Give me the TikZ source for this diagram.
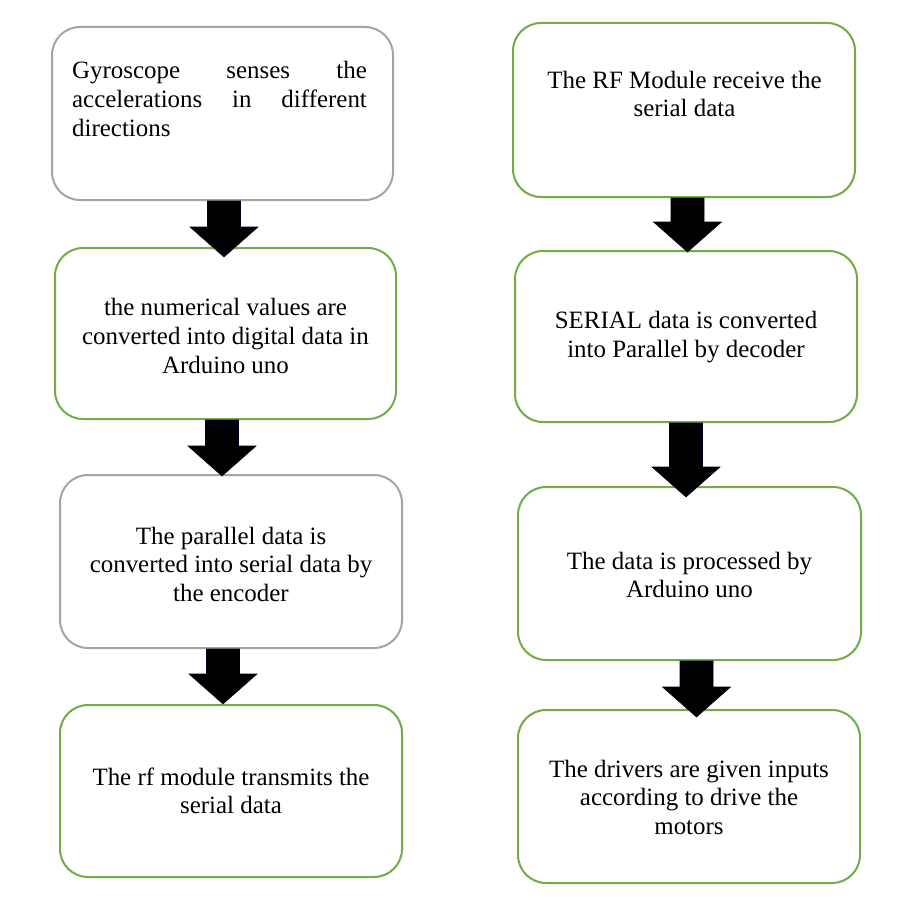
\documentclass[tikz,border=0pt]{standalone}
\usepackage{fontspec}
\setmainfont{Liberation Serif}
\usetikzlibrary{calc}
\definecolor{boxgreen}{HTML}{70AD47}
\definecolor{boxgray}{HTML}{A5A5A5}
\tikzset{
  stepbox/.style={draw, line width=1.5pt, rounded corners=21pt, fill=white, inner sep=0pt},
  greenbox/.style={stepbox, draw=boxgreen},
  graybox/.style={stepbox, draw=boxgray},
  boxtext/.style={align=center, inner sep=0pt, font=\fontsize{18.7pt}{21.4pt}\selectfont},
  blockarr/.style={fill=black, draw=black!85!blue, line width=0.4pt}
}
\newcommand\barrow[4]{% from, to, x centre (px), tip below target top (px)
  \fill[blockarr] let \p1=(#1.south), \p2=(#2.north) in
    ({(#3-16.5)*0.75pt},\y1) -- ({(#3+16.5)*0.75pt},\y1)
    -- ({(#3+16.5)*0.75pt},{\y2-(#4)*0.75pt+22.5pt})
    -- ({(#3+34)*0.75pt},{\y2-(#4)*0.75pt+22.5pt})
    -- ({#3*0.75pt},{\y2-(#4)*0.75pt})
    -- ({(#3-34)*0.75pt},{\y2-(#4)*0.75pt+22.5pt})
    -- ({(#3-16.5)*0.75pt},{\y2-(#4)*0.75pt+22.5pt}) -- cycle;}
\begin{document}
\begin{tikzpicture}[x=0.75pt,y=-0.75pt]
\useasboundingbox[fill=white] (0,0) rectangle (912,920);
% left column
\node[graybox, minimum width=255.75pt, minimum height=129.75pt] (L1) at (222.5,113.5) {};
\node[greenbox, minimum width=255.75pt, minimum height=128.25pt] (L2) at (225.5,333.5) {};
\node[graybox, minimum width=256.5pt, minimum height=129.75pt] (L3) at (231,561.5) {};
\node[greenbox, minimum width=256.5pt, minimum height=129pt] (L4) at (231,791) {};
% right column
\node[greenbox, minimum width=256.5pt, minimum height=130.5pt] (R1) at (684,110) {};
\node[greenbox, minimum width=256.5pt, minimum height=128.25pt] (R2) at (686,336.5) {};
\node[greenbox, minimum width=257.25pt, minimum height=129.75pt] (R3) at (689.5,573.5) {};
\node[greenbox, minimum width=256.5pt, minimum height=129.75pt] (R4) at (689,796.5) {};
% texts
\node[boxtext, text width=221pt, align=left] (tL1) at (219.5,99)
  {Gyroscope\hfill senses\hfill the\\accelerations\hfill in\hfill different\\directions};
\node[boxtext] (tL2) at (225.5,336) {the numerical values are\\converted into digital data in\\Arduino uno};
\node[boxtext] (tL3) at (231,564) {The parallel data is\\converted into serial data by\\the encoder};
\node[boxtext] (tL4) at (231,791) {The rf module transmits the\\serial data};
\node[boxtext] (tR1) at (684.5,94) {The RF Module receive the\\serial data};
\node[boxtext] (tR2) at (686,337) {SERIAL data is converted\\into Parallel by decoder};
\node[boxtext] (tR3) at (689.5,575) {The data is processed by\\Arduino uno};
\node[boxtext] (tR4) at (689,797) {The drivers are given inputs\\according to drive the\\motors};
% block arrows
\barrow{L1}{L2}{224}{10}
\barrow{L2}{L3}{222}{2}
\barrow{L3}{L4}{223}{0}
\barrow{R1}{R2}{687.5}{2}
\barrow{R2}{R3}{686}{11}
\barrow{R3}{R4}{696.5}{8}
\end{tikzpicture}
\end{document}
